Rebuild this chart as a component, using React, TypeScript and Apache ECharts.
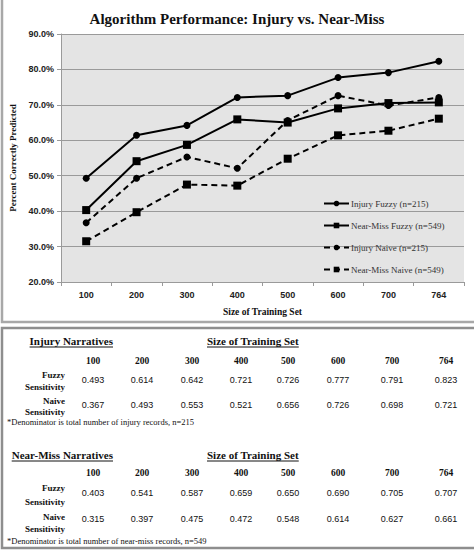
import * as echarts from 'echarts';
import React, { useEffect, useRef } from 'react';

// training set sizes (x categories and table columns)
const trainingSizes = ['100', '200', '300', '400', '500', '600', '700', '764'];

// sensitivity values
const injuryFuzzy = [0.493, 0.614, 0.642, 0.721, 0.726, 0.777, 0.791, 0.823];
const injuryNaive = [0.367, 0.493, 0.553, 0.521, 0.656, 0.726, 0.698, 0.721];
const nearMissFuzzy = [0.403, 0.541, 0.587, 0.659, 0.65, 0.69, 0.705, 0.707];
const nearMissNaive = [0.315, 0.397, 0.475, 0.472, 0.548, 0.614, 0.627, 0.661];

const seriesNames = ['Injury Fuzzy (n=215)', 'Near-Miss Fuzzy (n=549)', 'Injury Naive (n=215)', 'Near-Miss Naive (n=549)'];

const SERIF = '"Liberation Serif", "DejaVu Serif", serif';
const SANS = '"Liberation Sans", Arial, sans-serif';

// column centres of the tables
const colX = [93, 142, 192, 241, 288, 338, 392, 446];

const measure = (text: string, font: string) => {
  const ctx = document.createElement('canvas').getContext('2d');
  if (!ctx) return text.length * 5;
  ctx.font = font;
  return ctx.measureText(text).width;
};

interface TableLayout {
  title: string;
  footnote: string;
  fuzzy: number[];
  naive: number[];
  titleY: number;
  headerY: number;
  fuzzyY: [number, number, number]; // label line 1, label line 2, values
  naiveY: [number, number, number];
  footY: number;
}

const buildTable = (t: TableLayout) => {
  const els: any[] = [];
  const headFont = `bold 11px ${SERIF}`;
  const underline = (x: number, y: number, text: string, align: 'left' | 'right') => {
    const w = measure(text, headFont);
    const x1 = align === 'right' ? x - w : x;
    els.push({
      type: 'line',
      shape: { x1, y1: y + 6, x2: x1 + w, y2: y + 6 },
      style: { stroke: '#111', lineWidth: 1 },
    });
  };
  els.push({
    type: 'text',
    x: 113,
    y: t.titleY,
    style: { text: t.title, font: headFont, fill: '#111', align: 'right', verticalAlign: 'middle' },
  });
  underline(113, t.titleY, t.title, 'right');
  els.push({
    type: 'text',
    x: 207,
    y: t.titleY,
    style: { text: 'Size of Training Set', font: headFont, fill: '#111', align: 'left', verticalAlign: 'middle' },
  });
  underline(207, t.titleY, 'Size of Training Set', 'left');

  trainingSizes.forEach((s, i) => {
    els.push({
      type: 'text',
      x: colX[i],
      y: t.headerY,
      style: { text: s, font: `bold 9.5px ${SERIF}`, fill: '#111', align: 'center', verticalAlign: 'middle' },
    });
  });

  const row = (label: string, ys: [number, number, number], vals: number[]) => {
    els.push({
      type: 'text',
      x: 65,
      y: ys[0],
      style: { text: label, font: `bold 9px ${SERIF}`, fill: '#111', align: 'right', verticalAlign: 'middle' },
    });
    els.push({
      type: 'text',
      x: 65,
      y: ys[1],
      style: { text: 'Sensitivity', font: `bold 9px ${SERIF}`, fill: '#111', align: 'right', verticalAlign: 'middle' },
    });
    vals.forEach((v, i) => {
      els.push({
        type: 'text',
        x: colX[i],
        y: ys[2],
        style: { text: v.toFixed(3), font: `9px ${SANS}`, fill: '#111', align: 'center', verticalAlign: 'middle' },
      });
    });
  };
  row('Fuzzy', t.fuzzyY, t.fuzzy);
  row('Naive', t.naiveY, t.naive);

  els.push({
    type: 'text',
    x: 7,
    y: t.footY,
    style: { text: t.footnote, font: `8.5px ${SERIF}`, fill: '#111', align: 'left', verticalAlign: 'middle' },
  });
  return els;
};

const App = () => {
  const chartRef = useRef<HTMLDivElement>(null);

  useEffect(() => {
    document.body.style.margin = '0';
    if (!chartRef.current) return;
    const chart = echarts.init(chartRef.current, null, { renderer: 'svg' });

    const lineSeries = [
      { name: seriesNames[0], data: injuryFuzzy, symbol: 'circle', symbolSize: 7, dashed: false },
      { name: seriesNames[1], data: nearMissFuzzy, symbol: 'rect', symbolSize: 8, dashed: false },
      { name: seriesNames[2], data: injuryNaive, symbol: 'circle', symbolSize: 7, dashed: true },
      { name: seriesNames[3], data: nearMissNaive, symbol: 'rect', symbolSize: 8, dashed: true },
    ];

    const tables = [
      ...buildTable({
        title: 'Injury Narratives',
        footnote: '*Denominator is total number of injury records, n=215',
        fuzzy: injuryFuzzy,
        naive: injuryNaive,
        titleY: 341,
        headerY: 361,
        fuzzyY: [375, 387, 380],
        naiveY: [401, 412, 405],
        footY: 422,
      }),
      ...buildTable({
        title: 'Near-Miss Narratives',
        footnote: '*Denominator is total number of near-miss records, n=549',
        fuzzy: nearMissFuzzy,
        naive: nearMissNaive,
        titleY: 455,
        headerY: 473,
        fuzzyY: [488, 502, 493],
        naiveY: [517, 529, 519],
        footY: 541,
      }),
    ];

    chart.setOption({
      animation: false,
      backgroundColor: '#fff',
      title: {
        text: 'Algorithm Performance: Injury vs. Near-Miss',
        left: 'center',
        top: 6,
        textStyle: { fontFamily: SERIF, fontWeight: 'bold', fontSize: 15, color: '#111' },
      },
      legend: {
        orient: 'vertical',
        left: 318,
        top: 194,
        itemWidth: 25,
        itemHeight: 7,
        itemGap: 13,
        textStyle: { fontFamily: SERIF, fontSize: 9, color: '#333', padding: [0, 0, 0, -3] },
        data: seriesNames,
      },
      grid: {
        left: 58,
        top: 34,
        width: 406,
        height: 248,
        show: true,
        backgroundColor: '#e4e4e4',
        borderWidth: 0,
      },
      xAxis: {
        type: 'category',
        data: trainingSizes,
        boundaryGap: true,
        name: 'Size of Training Set',
        nameLocation: 'middle',
        nameGap: 25,
        nameTextStyle: { fontFamily: SERIF, fontWeight: 'bold', fontSize: 9.5, color: '#111' },
        axisLine: { lineStyle: { color: '#9a9a9a', width: 1 } },
        axisTick: { show: true, inside: false, length: 4, lineStyle: { color: '#9a9a9a' } },
        axisLabel: { fontFamily: SANS, fontWeight: 'bold', fontSize: 9, color: '#222', margin: 8 },
        splitLine: { show: false },
      },
      yAxis: {
        type: 'value',
        min: 20,
        max: 90,
        interval: 10,
        name: 'Percent Correctly Predicted',
        nameLocation: 'middle',
        nameGap: 44,
        nameTextStyle: { fontFamily: SERIF, fontWeight: 'bold', fontSize: 9, color: '#111' },
        axisLine: { show: true, lineStyle: { color: '#9a9a9a', width: 1 } },
        axisTick: { show: true, inside: false, length: 4, lineStyle: { color: '#9a9a9a' } },
        axisLabel: {
          fontFamily: SANS,
          fontWeight: 'bold',
          fontSize: 9,
          color: '#222',
          margin: 7,
          formatter: (v: number) => `${v.toFixed(1)}%`,
        },
        splitLine: { show: true, lineStyle: { color: '#9a9a9a', width: 1.2 } },
      },
      series: lineSeries.map((s) => ({
        name: s.name,
        type: 'line',
        data: s.data.map((v) => +(v * 100).toFixed(1)),
        symbol: s.symbol,
        symbolSize: s.symbolSize,
        showAllSymbol: true,
        itemStyle: { color: '#000' },
        lineStyle: { color: '#000', width: 2, type: s.dashed ? [6, 4] : 'solid' },
        emphasis: { disabled: true },
      })),
      graphic: [
        {
          type: 'rect',
          shape: { x: 2, y: -4, width: 480, height: 326 },
          style: { fill: 'none', stroke: '#a8a8a8', lineWidth: 2.5 },
          silent: true,
        },
        {
          type: 'rect',
          shape: { x: 2, y: 328, width: 480, height: 220 },
          style: { fill: 'none', stroke: '#8e8e8e', lineWidth: 2.5 },
          silent: true,
        },
        ...tables,
      ],
    });

    return () => {
      chart.dispose();
    };
  }, []);

  return <div ref={chartRef} style={{ width: 474, height: 551 }} />;
};

export default App;
